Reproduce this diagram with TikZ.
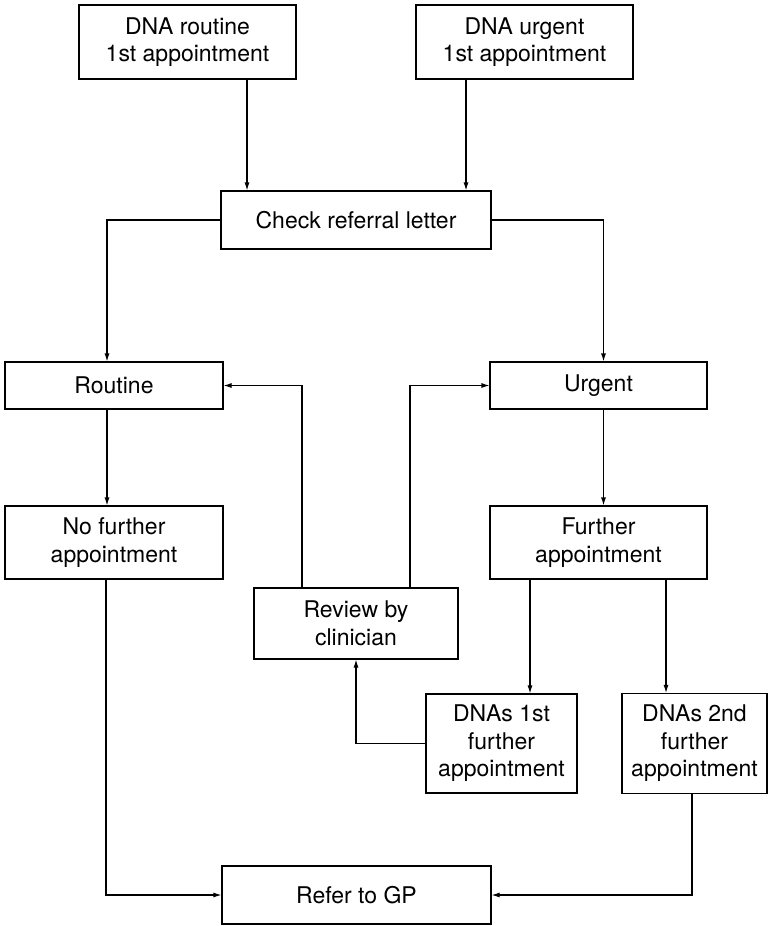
\documentclass[tikz,border=0pt]{standalone}
\usepackage{fontspec}
\setmainfont{TeX Gyre Heros}
\usetikzlibrary{arrows.meta,positioning}

\begin{document}
\begin{tikzpicture}[x=1pt,y=-1pt,>={Latex[length=8pt,width=5pt]},line width=1.1pt]
       \tikzstyle{box}=[draw, align=center, inner sep=0pt,
         font=\fontsize{23}{27.5}\selectfont]
       \useasboundingbox (0,0) rectangle (769,926);

       \node[box, minimum width=217pt, minimum height=74pt] (dna_r) at (187.5,42) {DNA routine\\1st appointment};
       \node[box, minimum width=217pt, minimum height=74pt] (dna_u) at (524.5,42) {DNA urgent\\1st appointment};
       \node[box, minimum width=270pt, minimum height=58pt] (check) at (356,220) {Check referral letter};
       \node[box, minimum width=218pt, minimum height=47pt] (routine) at (114,385.5) {Routine};
       \node[box, minimum width=217pt, minimum height=47pt] (urgent) at (598.5,385.5) {Urgent};
       \node[box, minimum width=218pt, minimum height=73pt] (no_fur) at (114,542.5) {No further\\appointment};
       \node[box, minimum width=217pt, minimum height=73pt] (fur) at (598.5,542.5) {Further\\appointment};
       \node[box, minimum width=204pt, minimum height=71pt] (review) at (356,623.5) {Review by\\clinician};
       \node[box, minimum width=151pt, minimum height=99pt] (dnas_1) at (501.5,743.5) {DNAs 1st\\further\\appointment};
       \node[box, minimum width=145pt, minimum height=100pt] (dnas_2) at (694.5,743.5) {DNAs 2nd\\further\\appointment};
       \node[box, minimum width=269pt, minimum height=58pt] (gp) at (356.5,895) {Refer to GP};

       \coordinate (a_r) at ([xshift=59.5pt]dna_r.south);
       \coordinate (a_u) at ([xshift=-58.5pt]dna_u.south);
       \draw[->] (a_r) -- (a_r |- check.north);
       \draw[->] (a_u) -- (a_u |- check.north);

       \draw[->] (check.west) -| ([xshift=-7pt]routine.north);
       \draw[->] (check.east) -| ([xshift=5pt]urgent.north);
       \draw[->] ([xshift=-7pt]routine.south) -- ([xshift=-7pt]no_fur.north);
       \draw[->] ([xshift=5pt]urgent.south) -- ([xshift=5pt]fur.north);

       \draw[->] ([xshift=-54pt]review.north) |- (routine.east);
       \draw[->] ([xshift=54pt]review.north) |- (urgent.west);

       \coordinate (b_1) at ([xshift=-68.5pt]fur.south);
       \coordinate (b_2) at ([xshift=67.5pt]fur.south);
       \draw[->] (b_1) -- (b_1 |- dnas_1.north);
       \draw[->] (b_2) -- (b_2 |- dnas_2.north);
       \draw[->] (dnas_1.west) -| (review.south);

       \draw[->] ([xshift=-8pt]no_fur.south) |- (gp.west);
       \draw[->] ([xshift=-2.5pt]dnas_2.south) |- (gp.east);
\end{tikzpicture}
\end{document}
